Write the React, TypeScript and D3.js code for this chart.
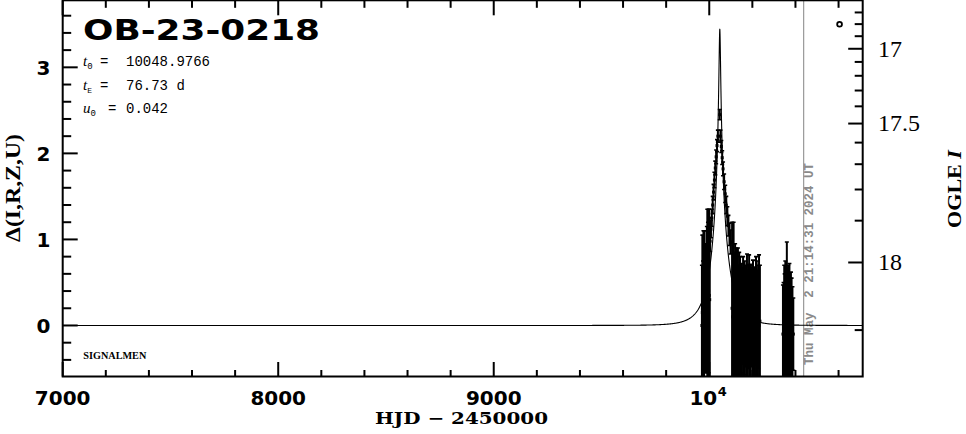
import React from "react";
import * as d3 from "d3";

// ---------- chart values ----------
const eventName = "OB-23-0218";
const t0 = 10048.9766;
const tE = 76.73;
const u0 = 0.042;
const ogleBaseMag = 18.095;
const ogleBlendFs = 0.095;

const xDomain = [7000, 10712];
const yDomain = [-0.593, 3.779];
const xMajorTicks = [7000, 8000, 9000, 10000];
const xTickLabels = ["7000", "8000", "9000", "10"];
const xMinorStep = 200;
const yMajorTicks = [0, 1, 2, 3];
const yMinorStep = 0.2;
const magMajorTicks = [17, 17.5, 18];
const magTickLabels = ["17", "17.5", "18"];
const magMinorTicks = [16.7, 16.8, 16.9, 17.1, 17.2, 17.3, 17.4, 17.6, 17.7, 17.8, 17.9, 18.1];

// pre-peak group
const preHJD = [9966, 9968, 9971, 9973, 9976, 9978, 9981, 9989, 9991, 9994, 9997, 10000, 10002];
const preDelta = [0.0, 0.15, 0.1, 0.25, 0.15, 0.3, 0.2, 0.3, 0.35, 0.3, 0.4, 0.35, 0.3];
const preErr = [0.7, 0.9, 0.65, 0.85, 0.95, 0.8, 0.75, 0.85, 1.0, 0.9, 0.95, 1.0, 0.95];

// peak branches
const peakHJD = [
  10004, 10008, 10012, 10016, 10020, 10024, 10028, 10032, 10036, 10040, 10048.7,
  10052, 10056, 10060, 10064, 10069, 10074, 10079, 10084, 10089, 10094, 10099,
];
const peakDelta = [
  0.98, 1.12, 1.25, 1.4, 1.55, 1.69, 1.83, 1.96, 2.09, 2.2, 2.45,
  2.2, 2.08, 1.95, 1.82, 1.67, 1.53, 1.4, 1.27, 1.16, 1.06, 0.97,
];
const peakErr = [
  0.12, 0.1, 0.1, 0.1, 0.09, 0.09, 0.08, 0.08, 0.07, 0.07, 0.06,
  0.07, 0.07, 0.08, 0.08, 0.09, 0.1, 0.1, 0.11, 0.12, 0.13, 0.14,
];

// post-peak dense group
const postHJD = [
  10106, 10109, 10113, 10116, 10120, 10122, 10126, 10129, 10133, 10136, 10139, 10143, 10146,
  10151, 10154, 10157, 10161, 10164, 10168, 10171, 10175, 10178, 10182, 10185, 10189,
  10193, 10196, 10203, 10206, 10210, 10213, 10217, 10220, 10224, 10227, 10231, 10235,
];
const postDelta = [
  0.2, 0.1, 0.15, 0.1, 0.0, 0.1, 0.05, 0.1, 0.0, 0.05, 0.1, 0.0, 0.05,
  0.0, 0.1, 0.0, 0.05, 0.0, 0.1, 0.0, 0.05, 0.0, 0.1, 0.0, 0.05,
  0.0, 0.1, 0.0, 0.05, 0.0, 0.1, 0.0, 0.05, 0.0, 0.1, 0.0, 0.05,
];
const postErr = [
  1.0, 0.85, 1.05, 0.75, 0.95, 0.7, 0.85, 0.6, 0.9, 0.65, 0.75, 0.8, 0.6,
  0.72, 0.55, 0.8, 0.62, 0.75, 0.58, 0.7, 0.78, 0.64, 0.6, 0.82, 0.66,
  0.7, 0.58, 0.76, 0.62, 0.68, 0.56, 0.8, 0.7, 0.64, 0.6, 0.82, 0.65,
];

// late group
const lateHJD = [
  10342, 10345, 10348, 10350, 10353, 10356, 10360, 10363, 10366,
  10369, 10372, 10376, 10379, 10382, 10386, 10390,
];
const lateDelta = [-0.1, -0.05, -0.1, -0.05, -0.1, -0.05, -0.1, -0.05, -0.1, -0.05, -0.1, -0.05, -0.1, -0.05, -0.1, -0.1];
const lateErr = [0.57, 0.55, 0.8, 0.65, 0.85, 0.7, 1.07, 0.72, 0.8, 0.62, 0.82, 0.6, 0.72, 0.6, 0.55, 0.42];

const extraHJD = [10600];
const extraDelta = [3.5];

const nowHJD = 10438;
const nowLabel = "Thu May  2 21:14:31 2024 UT";
const xTitle = "HJD \u2212 2450000";
const yTitle = "\u0394(I,R,Z,U)";
const signature = "SIGNALMEN";

// ---------- layout ----------
const W = 966;
const H = 434;
const L = 62.7;
const R = 862.7;
const T = 0.3;
const B = 376.5;

const x = d3.scaleLinear().domain(xDomain).range([L, R]);
const y = d3.scaleLinear().domain(yDomain).range([B, T]);

function magnification(t: number) {
  const tau = (t - t0) / tE;
  const u = Math.sqrt(tau * tau + u0 * u0);
  return (u * u + 2) / (u * Math.sqrt(u * u + 4));
}
function modelDelta(t: number) {
  return 2.5 * Math.log10(magnification(t));
}
function magToDelta(m: number) {
  const f = Math.pow(10, -0.4 * (m - ogleBaseMag));
  const A = (f - (1 - ogleBlendFs)) / ogleBlendFs;
  return 2.5 * Math.log10(A);
}

export default function App() {
  const times = Array.from(
    new Set([
      ...d3.range(xDomain[0], xDomain[1], 2),
      ...d3.range(t0 - 30, t0 + 30, 0.05),
      xDomain[1],
    ])
  ).sort((a, b) => a - b);
  const line = d3
    .line<number>()
    .x((t) => x(t))
    .y((t) => y(modelDelta(t)));
  const modelPath = line(times) || "";

  const obsHJD = [...preHJD, ...peakHJD, ...postHJD, ...lateHJD];
  const obsDelta = [...preDelta, ...peakDelta, ...postDelta, ...lateDelta];
  const obsErr = [...preErr, ...peakErr, ...postErr, ...lateErr];

  const xMinor = d3
    .range(xDomain[0], xDomain[1], xMinorStep)
    .filter((v) => !xMajorTicks.includes(v));
  const yMinor = d3
    .range(-0.4, 3.8, yMinorStep)
    .map((v) => Math.round(v * 10) / 10)
    .filter((v) => !yMajorTicks.includes(v) && v > yDomain[0] && v < yDomain[1]);

  const tickStroke = { stroke: "#000", strokeWidth: 2 };
  const sansBold = "'DejaVu Sans', sans-serif";

  return (
    <svg
      width={W}
      height={H}
      viewBox={`0 0 ${W} ${H}`}
      style={{ position: "absolute", left: 0, top: 0, background: "#fff" }}
    >
      <rect x={0} y={0} width={W} height={H} fill="#fff" />
      <defs>
        <clipPath id="plotclip">
          <rect x={L} y={T} width={R - L} height={B - T} />
        </clipPath>
      </defs>

      {/* now line */}
      <line x1={x(nowHJD)} x2={x(nowHJD)} y1={T} y2={B} stroke="#999" strokeWidth={1.2} />
      <text
        transform={`translate(${x(nowHJD) + 9},${365}) rotate(-90)`}
        fontFamily="'Liberation Mono', monospace"
        fontWeight="bold"
        fontSize={12.5}
        fill="#8a8a8a"
        textLength={202}
        lengthAdjust="spacingAndGlyphs"
        style={{ whiteSpace: "pre" }}
      >
        {nowLabel}
      </text>

      {/* model + data */}
      <g clipPath="url(#plotclip)">
        <path d={modelPath} fill="none" stroke="#000" strokeWidth={1.1} />
        {obsHJD.map((t, i) => {
          const cx = x(t);
          const y1 = y(obsDelta[i] + obsErr[i]);
          const y2 = y(obsDelta[i] - obsErr[i]);
          return (
            <g key={i}>
              <line x1={cx} x2={cx} y1={y1} y2={y2} stroke="#000" strokeWidth={2} />
              <line x1={cx - 2} x2={cx + 2} y1={y1} y2={y1} stroke="#000" strokeWidth={1.6} />
              <line x1={cx - 2} x2={cx + 2} y1={y2} y2={y2} stroke="#000" strokeWidth={1.6} />
              <rect x={cx - 1.5} y={y(obsDelta[i]) - 1.5} width={3} height={3} fill="#000" />
            </g>
          );
        })}
        {extraHJD.map((t, i) => (
          <circle key={i} cx={x(t) + 1} cy={y(extraDelta[i])} r={2.4} fill="none" stroke="#000" strokeWidth={1.8} />
        ))}
      </g>

      {/* frame */}
      <rect x={L} y={T} width={R - L} height={B - T} fill="none" stroke="#000" strokeWidth={2} />

      {/* x ticks */}
      {xMajorTicks.map((v) => (
        <g key={"xM" + v}>
          <line x1={x(v)} x2={x(v)} y1={B} y2={B - 14.5} {...tickStroke} />
          <line x1={x(v)} x2={x(v)} y1={T} y2={T + 15} {...tickStroke} />
        </g>
      ))}
      {xMinor.map((v) => (
        <g key={"xm" + v}>
          <line x1={x(v)} x2={x(v)} y1={B} y2={B - 6.5} {...tickStroke} />
          <line x1={x(v)} x2={x(v)} y1={T} y2={T + 7.5} {...tickStroke} />
        </g>
      ))}
      {xMajorTicks.map((v, i) =>
        i < 3 ? (
          <text key={"xl" + v} x={x(v)} y={405} textAnchor="middle" fontFamily={sansBold} fontWeight="bold" fontSize={20}>
            {xTickLabels[i]}
          </text>
        ) : (
          <g key={"xl" + v}>
            <text x={x(v) + 8} y={405} textAnchor="end" fontFamily={sansBold} fontWeight="bold" fontSize={20}>
              {xTickLabels[i]}
            </text>
            <text x={x(v) + 8.5} y={396} fontFamily={sansBold} fontWeight="bold" fontSize={13}>
              4
            </text>
          </g>
        )
      )}

      {/* y ticks */}
      {yMajorTicks.map((v) => (
        <g key={"yM" + v}>
          <line x1={L} x2={L + 15} y1={y(v)} y2={y(v)} {...tickStroke} />
          <text x={50.5} y={y(v) + 7.3} textAnchor="end" fontFamily={sansBold} fontWeight="bold" fontSize={20}>
            {v}
          </text>
        </g>
      ))}
      {yMinor.map((v) => (
        <line key={"ym" + v} x1={L} x2={L + 8.5} y1={y(v)} y2={y(v)} {...tickStroke} />
      ))}

      {/* right OGLE I axis */}
      {magMajorTicks.map((m, i) => {
        const yy = y(magToDelta(m));
        return (
          <g key={"mM" + m}>
            <line x1={R} x2={R - 14.5} y1={yy} y2={yy} {...tickStroke} />
            <text x={878} y={yy + 7.8} fontFamily="'Liberation Serif', serif" fontSize={24}>
              {magTickLabels[i]}
            </text>
          </g>
        );
      })}
      {magMinorTicks.map((m) => {
        const yy = y(magToDelta(m));
        return <line key={"mm" + m} x1={R} x2={R - 8} y1={yy} y2={yy} {...tickStroke} />;
      })}

      {/* titles */}
      <text x={83} y={39.5} fontFamily={sansBold} fontWeight="bold" fontSize={28} textLength={237} lengthAdjust="spacingAndGlyphs">
        {eventName}
      </text>
      <g fontFamily="'Liberation Mono', monospace" fontSize={14}>
        <text x={83} y={66}>
          <tspan fontFamily="'Liberation Serif', serif" fontStyle="italic" fontSize={15}>t</tspan>
          <tspan fontSize={9} dy={3}>0</tspan>
          <tspan x={100} y={66}>=</tspan>
          <tspan x={126}>{t0.toFixed(4)}</tspan>
        </text>
        <text x={83} y={89.5}>
          <tspan fontFamily="'Liberation Serif', serif" fontStyle="italic" fontSize={15}>t</tspan>
          <tspan fontSize={8} dy={3}>E</tspan>
          <tspan x={100} y={89.5}>=</tspan>
          <tspan x={126}>{tE.toFixed(2)} d</tspan>
        </text>
        <text x={83} y={112.5}>
          <tspan fontFamily="'Liberation Serif', serif" fontStyle="italic" fontSize={15}>u</tspan>
          <tspan fontSize={9} dy={3}>0</tspan>
          <tspan x={108} y={112.5}>=</tspan>
          <tspan x={126}>{u0.toFixed(3)}</tspan>
        </text>
      </g>
      <text x={83.3} y={359} fontFamily="'Liberation Serif', serif" fontWeight="bold" fontSize={10} textLength={63} lengthAdjust="spacingAndGlyphs">
        {signature}
      </text>

      <text x={461.5} y={424} textAnchor="middle" fontFamily="'DejaVu Serif', serif" fontWeight="bold" fontSize={17} textLength={173} lengthAdjust="spacingAndGlyphs">
        {xTitle}
      </text>
      <text transform={`translate(20,${188}) rotate(-90)`} textAnchor="middle" fontFamily="'Liberation Serif', serif" fontWeight="bold" fontSize={20} textLength={108} lengthAdjust="spacingAndGlyphs">
        {yTitle}
      </text>
      <text transform={`translate(961,${189}) rotate(-90)`} textAnchor="middle" fontFamily="'Liberation Serif', serif" fontWeight="bold" fontSize={19} textLength={78} lengthAdjust="spacingAndGlyphs">
        OGLE <tspan fontStyle="italic">I</tspan>
      </text>
    </svg>
  );
}
